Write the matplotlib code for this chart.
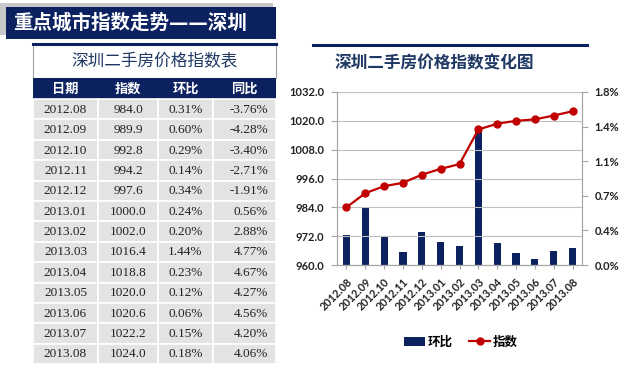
import matplotlib
matplotlib.use("Agg")
import matplotlib.pyplot as plt
from matplotlib.patches import Rectangle
from matplotlib.lines import Line2D
from matplotlib.ticker import FixedLocator, FuncFormatter

plt.rcParams['font.family'] = ['Noto Sans CJK SC', 'DejaVu Sans']

# Data
months = ["2012.08", "2012.09", "2012.10", "2012.11", "2012.12", "2013.01", "2013.02",
          "2013.03", "2013.04", "2013.05", "2013.06", "2013.07", "2013.08"]
index_vals = [984.0, 989.9, 992.8, 994.2, 997.6, 1000.0, 1002.0,
              1016.4, 1018.8, 1020.0, 1020.6, 1022.2, 1024.0]
mom_pct = [0.31, 0.60, 0.29, 0.14, 0.34, 0.24, 0.20, 1.44, 0.23, 0.12, 0.06, 0.15, 0.18]
yoy_pct = [-3.76, -4.28, -3.40, -2.71, -1.91, 0.56, 2.88, 4.77, 4.67, 4.27, 4.56, 4.20, 4.06]
table_headers = ["日期", "指数", "环比", "同比"]

NAVY = "#0c2260"
RED = "#c00000"
W, H = 629, 369

fig = plt.figure(figsize=(W / 100, H / 100), dpi=100)
fig.patch.set_facecolor("white")

# full-figure overlay in pixel coordinates for the banner and table
bg = fig.add_axes([0, 0, 1, 1])
bg.set_xlim(0, W)
bg.set_ylim(H, 0)
bg.axis("off")

# banner with grey shadow
bg.add_patch(Rectangle((0, 3), 273, 32, facecolor="#c8c8c8", edgecolor="none"))
bg.add_patch(Rectangle((6, 7), 270, 32, facecolor=NAVY, edgecolor="none"))
# DejaVu first so the em dashes join into one line; CJK glyphs fall back to Noto
bg.text(13, 23, "重点城市指数走势——深圳", color="white", fontsize=14,
        fontweight="bold", family=["DejaVu Sans", "Noto Sans CJK SC"],
        va="center", ha="left")

# table
col_edges = [33, 98, 158, 213, 276]
tbl_top = 44
title_bottom = 78
head_bottom = 99
row_h = 20.4

bg.add_patch(Rectangle((col_edges[0], tbl_top), col_edges[-1] - col_edges[0],
                       title_bottom - tbl_top, facecolor="white", edgecolor="#a0a0a0", lw=0.8))
bg.plot([col_edges[0], col_edges[-1]], [tbl_top, tbl_top], color=NAVY, lw=2.2)
bg.text((col_edges[0] + col_edges[-1]) / 2, (tbl_top + title_bottom) / 2 + 1,
        "深圳二手房价格指数表", color="#1f3864", fontsize=12, ha="center", va="center")

bg.add_patch(Rectangle((col_edges[0], title_bottom), col_edges[-1] - col_edges[0],
                       head_bottom - title_bottom, facecolor=NAVY, edgecolor="none"))
for j, hd in enumerate(table_headers):
    bg.text((col_edges[j] + col_edges[j + 1]) / 2, (title_bottom + head_bottom) / 2,
            hd, color="white", fontsize=9.5, fontweight="bold", ha="center", va="center")

for i, m in enumerate(months):
    y0 = head_bottom + i * row_h
    for j in range(4):
        bg.add_patch(Rectangle((col_edges[j], y0), col_edges[j + 1] - col_edges[j], row_h,
                               facecolor="#e3e3e3", edgecolor="white", lw=1.2))
    yc = y0 + row_h / 2 + 0.5
    cells = [m, f"{index_vals[i]:.1f}", f"{mom_pct[i]:.2f}%", f"{yoy_pct[i]:.2f}%"]
    for j, txt in enumerate(cells):
        if j < 3:
            bg.text((col_edges[j] + col_edges[j + 1]) / 2, yc, txt, fontsize=9.5,
                    family="Liberation Serif", color="#222222", ha="center", va="center")
        else:
            bg.text(col_edges[j + 1] - 8, yc, txt, fontsize=9.5,
                    family="Liberation Serif", color="#222222", ha="right", va="center")

# chart header line and title
bg.plot([313, 587], [45, 45], color=NAVY, lw=2.2)
bg.text(434, 63, "深圳二手房价格指数变化图", color="#1f3864", fontsize=12,
        fontweight="bold", ha="center", va="center")

# chart axes
px0, px1, py0, py1 = 337, 582, 92, 265
ax = fig.add_axes([px0 / W, 1 - py1 / H, (px1 - px0) / W, (py1 - py0) / H])
ax2 = ax.twinx()

x = list(range(len(months)))
ax2.bar(x, mom_pct, width=0.38, color=NAVY, zorder=2)
ax2.set_ylim(0, 1.8)
ax2.yaxis.set_major_locator(FixedLocator([0, 0.36, 0.72, 1.08, 1.44, 1.8]))
ax2.yaxis.set_major_formatter(FuncFormatter(lambda v, p: f"{v:.1f}%"))

ax.plot(x, index_vals, color=RED, lw=1.6, marker="o", markersize=5, zorder=3)
ax.set_ylim(960, 1032)
ax.set_yticks([960, 972, 984, 996, 1008, 1020, 1032])
ax.yaxis.set_major_formatter(FuncFormatter(lambda v, p: f"{v:.1f}"))
ax.set_xlim(-0.5, len(months) - 0.5)
ax.grid(axis="y", color="#bfbfbf", lw=0.8)
ax.set_axisbelow(True)

# line above bars
ax.set_zorder(ax2.get_zorder() + 1)
ax.patch.set_visible(False)

for a in (ax, ax2):
    a.spines["top"].set_visible(False)
    a.spines["left"].set_color("#a6a6a6")
    a.spines["right"].set_color("#a6a6a6")
    a.spines["bottom"].set_color("#a6a6a6")
    a.tick_params(axis="y", length=4, color="#a6a6a6", labelsize=8, labelcolor="#222222")
    for lab in a.get_yticklabels():
        lab.set_family("Lato")
        lab.set_fontweight("bold")
ax.tick_params(axis="y", pad=5)
ax2.tick_params(axis="y", pad=5)

ax.set_xticks(x)
ax.set_xticklabels(months, rotation=45, ha="right", rotation_mode="anchor",
                   fontsize=7.8, fontweight="bold", family="Lato", color="#222222")
ax.tick_params(axis="x", length=3, color="#a6a6a6", pad=5)
ax2.tick_params(axis="x", length=0)

# legend
handles = [Rectangle((0, 0), 1, 1, facecolor=NAVY),
           Line2D([0], [0], color=RED, lw=1.6, marker="o", markersize=5)]
fig.legend(handles, ["环比", "指数"], loc="center", bbox_to_anchor=(461 / W, 1 - 342 / H),
           ncol=2, frameon=False, handlelength=1.7, handletextpad=0.2,
           columnspacing=1.3, prop={"size": 9, "weight": "bold"})

fig.savefig("out.png", dpi=100)
